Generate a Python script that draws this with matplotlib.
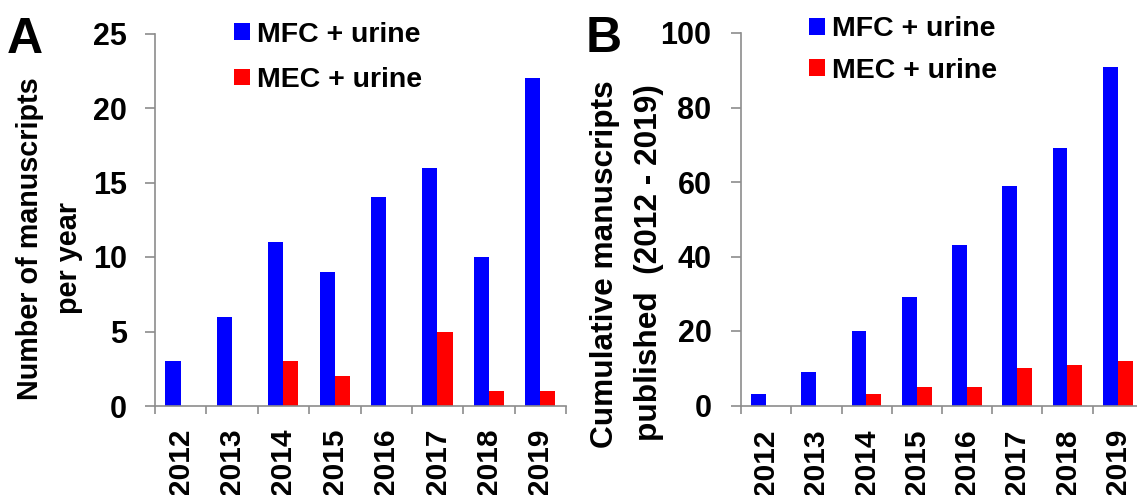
import matplotlib
matplotlib.use("Agg")
import matplotlib.pyplot as plt
import numpy as np

plt.rcParams['font.family'] = ['Liberation Sans', 'DejaVu Sans']
plt.rcParams['font.weight'] = 'bold'

years = ['2012', '2013', '2014', '2015', '2016', '2017', '2018', '2019']
mfc_per_year = [3, 6, 11, 9, 14, 16, 10, 22]
mec_per_year = [0, 0, 3, 2, 0, 5, 1, 1]
mfc_cumulative = [3, 9, 20, 29, 43, 59, 69, 91]
mec_cumulative = [0, 0, 3, 5, 5, 10, 11, 12]

W, H = 1137, 495
fig = plt.figure(figsize=(W / 100, H / 100), dpi=100)

BLUE = '#0000ff'
RED = '#ff0000'
GREY = '#8c8c8c'


def px_axes(left, right, bottom, top):
    return fig.add_axes([left / W, 1 - bottom / H, (right - left) / W, (bottom - top) / H])


def style_axes(ax, ymax, ystep, ypad, xpad):
    x = np.arange(len(years))
    ax.set_xlim(-0.5, len(years) - 0.5)
    ax.set_ylim(0, ymax)
    ax.set_yticks(np.arange(0, ymax + 1, ystep))
    ax.set_xticks(x)
    ax.set_xticklabels(years, rotation=90)
    ax.set_xticks(np.arange(-0.5, len(years)), minor=True)
    for s in ['top', 'right']:
        ax.spines[s].set_visible(False)
    for s in ['left', 'bottom']:
        ax.spines[s].set_color(GREY)
        ax.spines[s].set_linewidth(1.2)
    ax.tick_params(axis='y', direction='out', length=7.2, width=1.2, color=GREY,
                   labelsize=22, pad=ypad)
    ax.tick_params(axis='x', which='major', length=0, labelsize=21.5, pad=xpad)
    ax.tick_params(axis='x', which='minor', direction='out', length=6, width=1.2, color=GREY)
    for lab in ax.get_xticklabels() + ax.get_yticklabels():
        lab.set_fontweight('bold')


def draw_bars(ax, mfc, mec):
    x = np.arange(len(years))
    w = 0.295
    b1 = ax.bar(x - 0.15, mfc, w, color=BLUE, label='MFC + urine')
    b2 = ax.bar(x + 0.145, mec, w, color=RED, label='MEC + urine')
    return b1, b2


leg_kw = dict(loc='upper left', bbox_transform=fig.transFigure, frameon=False,
              borderpad=0, borderaxespad=0, prop={'size': 20.5, 'weight': 'bold'},
              handlelength=0.56, handleheight=0.5, handletextpad=0.25)

# Panel A
axA = px_axes(155, 566, 406, 33.5)
hA = draw_bars(axA, mfc_per_year, mec_per_year)
style_axes(axA, 25, 5, 13, 16)
axA.legend(handles=hA, bbox_to_anchor=(234 / W, 1 - 21.5 / H), labelspacing=0.69, **leg_kw)

# Panel B
axB = px_axes(741, 1143, 405.5, 33)
hB = draw_bars(axB, mfc_cumulative, mec_cumulative)
style_axes(axB, 100, 20, 14, 17)
axB.legend(handles=hB, bbox_to_anchor=(809 / W, 1 - 16.5 / H), labelspacing=0.53, **leg_kw)

# axis titles
lab_kw = dict(rotation=90, ha='center', va='center', fontweight='bold')
fig.text(30 / W, 1 - 239 / H, 'Number of manuscripts', fontsize=20.7, **lab_kw)
fig.text(69 / W, 1 - 257.5 / H, 'per year', fontsize=20.7, **lab_kw)
fig.text(605 / W, 1 - 264 / H, 'Cumulative manuscripts', fontsize=22.8, **lab_kw)
fig.text(649 / W, 1 - 263 / H, 'published  (2012 - 2019)', fontsize=22.8, **lab_kw)

# panel letters
fig.text(7 / W, 1 - 53 / H, 'A', fontsize=36, fontweight='bold', va='baseline', ha='left')
fig.text(586 / W, 1 - 52 / H, 'B', fontsize=36, fontweight='bold', va='baseline', ha='left')

fig.savefig('out.png', dpi=100)
